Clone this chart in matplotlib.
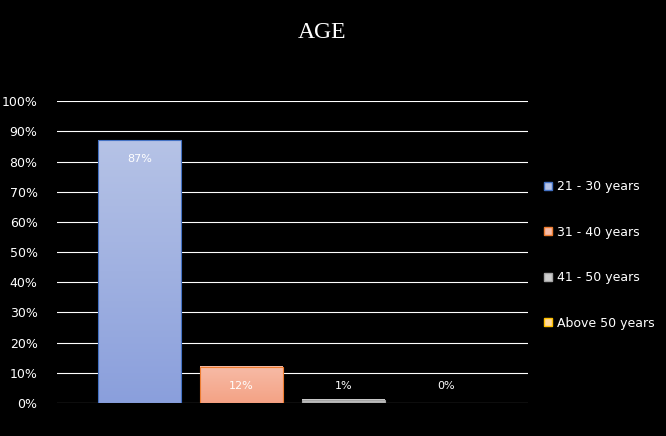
import numpy as np
import matplotlib.pyplot as plt
from matplotlib.colors import LinearSegmentedColormap
from matplotlib.patches import Patch

categories = ['21 - 30 years', '31 - 40 years', '41 - 50 years', 'Above 50 years']
values = [87, 12, 1, 0]
top_colors = ['#b6c3e6', '#f7bba6', '#cfcfcf', '#ffd89a']
bottom_colors = ['#8a9fdc', '#f4a285', '#b0b0b0', '#ffc870']
edge_colors = ['#4472c4', '#ed7d31', '#a5a5a5', '#ffc000']

fig = plt.figure(figsize=(6.66, 4.36), dpi=100, facecolor='black')
ax = fig.add_axes([0.0856, 0.0757, 0.7074, 0.6923], facecolor='black')

width = 0.81
xs = np.arange(len(values))
grad = np.linspace(1, 0, 256).reshape(-1, 1)
for x, v, tc, bc, ec in zip(xs, values, top_colors, bottom_colors, edge_colors):
    if v > 0:
        cmap = LinearSegmentedColormap.from_list('g', [bc, tc])
        ax.imshow(grad, cmap=cmap, extent=[x - width/2, x + width/2, 0, v],
                  aspect='auto', zorder=3)
        ax.bar(x, v, width, facecolor='none', edgecolor=ec, linewidth=0.8, zorder=4)
    ly = v - 6 if v > 20 else 5.5
    ax.text(x, ly, f'{v}%', color='white', ha='center', va='center', fontsize=8, zorder=5)

ax.set_xlim(-0.809, 3.809)
ax.set_ylim(0, 100)
ax.set_yticks(range(0, 101, 10))
ax.set_yticklabels([f'{t}%' for t in range(0, 101, 10)], color='white', fontsize=9)
ax.set_xticks([])
ax.yaxis.grid(True, color='white', linewidth=0.8, zorder=0)
ax.set_axisbelow(True)
for s in ax.spines.values():
    s.set_visible(False)
ax.tick_params(axis='y', length=0, pad=14)

handles = [Patch(facecolor=tc, edgecolor=ec, label=c)
           for c, tc, ec in zip(categories, top_colors, edge_colors)]
leg = fig.legend(handles=handles, loc='center left', bbox_to_anchor=(0.8, 0.415),
                 frameon=False, fontsize=9, labelcolor='white', handlelength=0.6,
                 handleheight=0.6, labelspacing=2.6, handletextpad=0.4)

fig.text(0.483, 0.925, 'AGE', color='white', ha='center', va='center',
         fontsize=17, family='Liberation Serif')

fig.savefig('out.png', dpi=100, facecolor='black')
